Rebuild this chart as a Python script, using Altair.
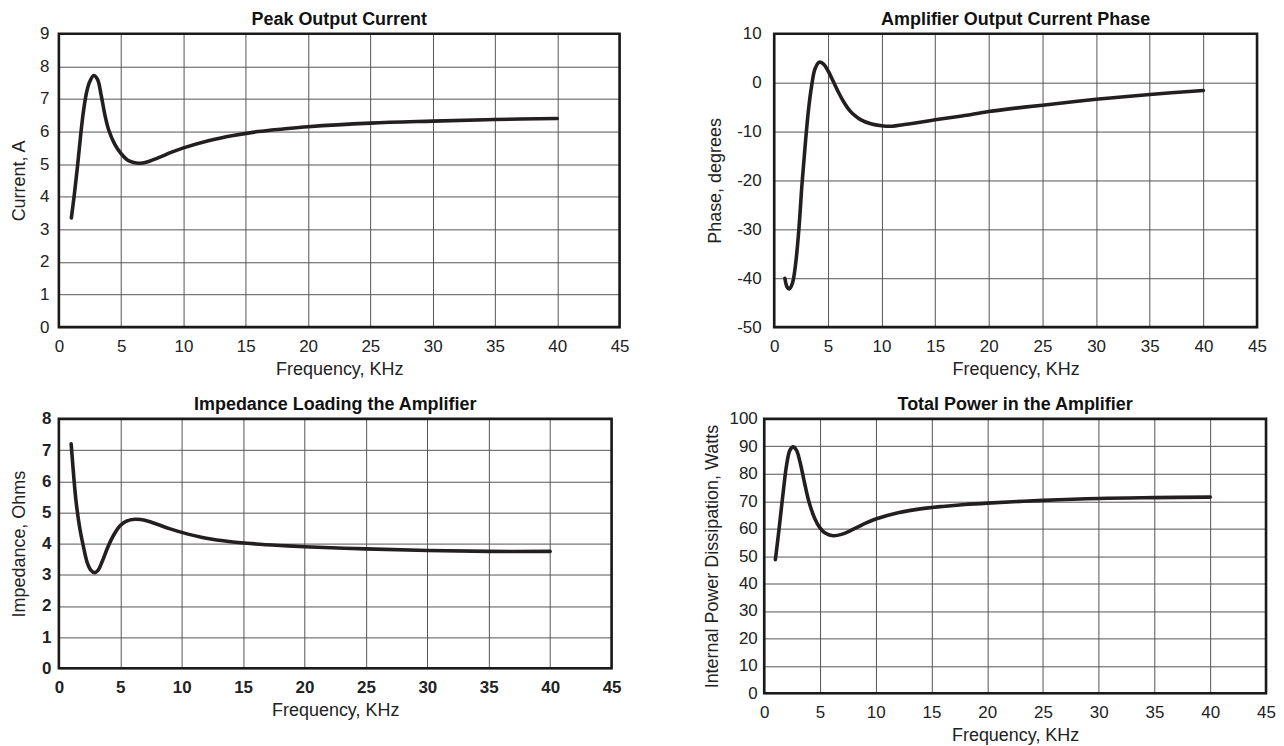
import altair as alt
import pandas as pd

FONT = "Liberation Sans"

# ---- Peak Output Current ----
cur_f = [1.0, 1.25, 1.5, 1.75, 2.0, 2.25, 2.5, 2.8, 3.1, 3.4, 3.7, 4.0, 4.5, 5.0, 5.5, 6.0, 6.5, 7.0, 8.0, 9.0, 10, 12, 14, 16, 18, 20, 25, 30, 35, 40]
cur_v = [3.35, 4.1, 4.95, 5.9, 6.7, 7.25, 7.55, 7.72, 7.6, 7.1, 6.5, 6.05, 5.6, 5.32, 5.13, 5.05, 5.03, 5.06, 5.2, 5.36, 5.5, 5.72, 5.88, 6.0, 6.08, 6.15, 6.26, 6.32, 6.37, 6.4]

# ---- Amplifier Output Current Phase ----
ph_f = [1.0, 1.2, 1.4, 1.7, 2.0, 2.3, 2.6, 2.9, 3.2, 3.5, 3.8, 4.2, 4.6, 5.0, 5.5, 6.0, 6.5, 7.0, 7.5, 8.0, 9.0, 10, 11, 12, 13, 15, 17.5, 20, 22.5, 25, 30, 35, 40]
ph_v = [-40, -41.8, -42.2, -41, -37, -30, -20.5, -12.5, -5.5, -0.5, 2.8, 4.2, 3.8, 2.5, 0.3, -2.0, -4.0, -5.6, -6.7, -7.5, -8.4, -8.8, -8.9, -8.6, -8.3, -7.6, -6.8, -5.9, -5.2, -4.6, -3.4, -2.4, -1.6]

# ---- Impedance Loading the Amplifier ----
imp_f = [1.0, 1.2, 1.4, 1.7, 2.0, 2.3, 2.6, 2.9, 3.2, 3.5, 4.0, 4.5, 5.0, 5.5, 6.2, 7.0, 8.0, 9.0, 10, 12, 14, 16, 18, 20, 25, 30, 35, 40]
imp_v = [7.2, 6.2, 5.35, 4.5, 3.9, 3.4, 3.15, 3.07, 3.15, 3.4, 3.9, 4.3, 4.58, 4.72, 4.78, 4.75, 4.62, 4.48, 4.36, 4.17, 4.06, 3.99, 3.94, 3.9, 3.83, 3.78, 3.75, 3.75]

# ---- Total Power in the Amplifier ----
pw_f = [1.0, 1.25, 1.5, 1.75, 2.0, 2.3, 2.6, 2.9, 3.2, 3.6, 4.0, 4.5, 5.0, 5.5, 6.2, 7.0, 8.0, 9.0, 10, 12, 14, 16, 18, 20, 25, 30, 35, 40]
pw_v = [48.7, 57, 66, 75, 83, 88.5, 89.8, 88.5, 84.5, 77, 70, 64, 60.3, 58.3, 57.4, 58, 59.8, 61.8, 63.5, 65.8, 67.2, 68.1, 68.8, 69.3, 70.3, 71.0, 71.3, 71.5]

x_ticks = [0, 5, 10, 15, 20, 25, 30, 35, 40, 45]


def panel(xs, ys, title, ytitle, yvals, w, h, yext, ytp, ylp, bold=False):
    df = pd.DataFrame({"f": xs, "v": ys})
    lw = "bold" if bold else "normal"
    xaxis = alt.Axis(values=x_ticks, title="Frequency, KHz", grid=True, ticks=False,
                     domain=False, labelPadding=11, minExtent=25, maxExtent=25,
                     titlePadding=8, labelFontWeight=lw, labelFlush=False,
                     labelOverlap=False, labelExpr="'' + datum.value")
    yaxis = alt.Axis(values=yvals, title=ytitle, grid=True, ticks=False, domain=False,
                     labelPadding=ylp, minExtent=yext, maxExtent=yext, titlePadding=ytp,
                     labelFontWeight=lw, labelFlush=False, labelOverlap=False,
                     labelExpr="'' + datum.value")
    line = alt.Chart(df).mark_line(color="#231f20", strokeWidth=3.6,
                                   interpolate="catmull-rom", strokeCap="round").encode(
        x=alt.X("f:Q", scale=alt.Scale(domain=[0, 45], nice=False), axis=xaxis),
        y=alt.Y("v:Q", scale=alt.Scale(domain=[yvals[0], yvals[-1]], nice=False, zero=False),
                axis=yaxis),
    )
    frame = alt.Chart(pd.DataFrame({"k": [0]})).mark_rect(
        fill=None, fillOpacity=0, stroke="#1a1a1a", strokeWidth=2.6).encode(
        x=alt.value(0), x2=alt.value(w), y=alt.value(0), y2=alt.value(h))
    return alt.layer(line, frame).properties(
        width=w, height=h,
        title=alt.TitleParams(title, fontSize=18, fontWeight="bold", font=FONT,
                              offset=-4, anchor="middle", color="#111"))


p1 = panel(cur_f, cur_v, "Peak Output Current", "Current, A", list(range(0, 10)),
           562, 294, 25, 5.5, 10)
p2 = panel(ph_f, ph_v, "Amplifier Output Current Phase", "Phase, degrees",
           list(range(-50, 11, 10)), 484, 294, 38, 11.5, 13)
p3 = panel(imp_f, imp_v, "Impedance Loading the Amplifier", "Impedance, Ohms",
           list(range(0, 9)), 554, 250, 25, 5.5, 8, bold=True)
p4 = panel(pw_f, pw_v, "Total Power in the Amplifier", "Internal Power Dissipation, Watts",
           list(range(0, 101, 10)), 503, 275, 38, 4.5, 7)

row1 = alt.hconcat(p1, p2, spacing=155, bounds="flush")
row2 = alt.hconcat(p3, p4, spacing=153, bounds="flush")

chart = alt.vconcat(row1, row2, spacing=18).properties(
    padding={"left": 2, "top": 2, "right": 0, "bottom": 0}, background="white"
).configure_view(stroke=None).configure_axis(
    labelFont=FONT, titleFont=FONT, labelFontSize=17, titleFontSize=18,
    titleFontWeight="normal", labelColor="#222", titleColor="#222",
    gridColor="#555", gridWidth=1, gridOpacity=1,
)

chart.save("out.html", embed_options={"renderer": "svg", "actions": False})
